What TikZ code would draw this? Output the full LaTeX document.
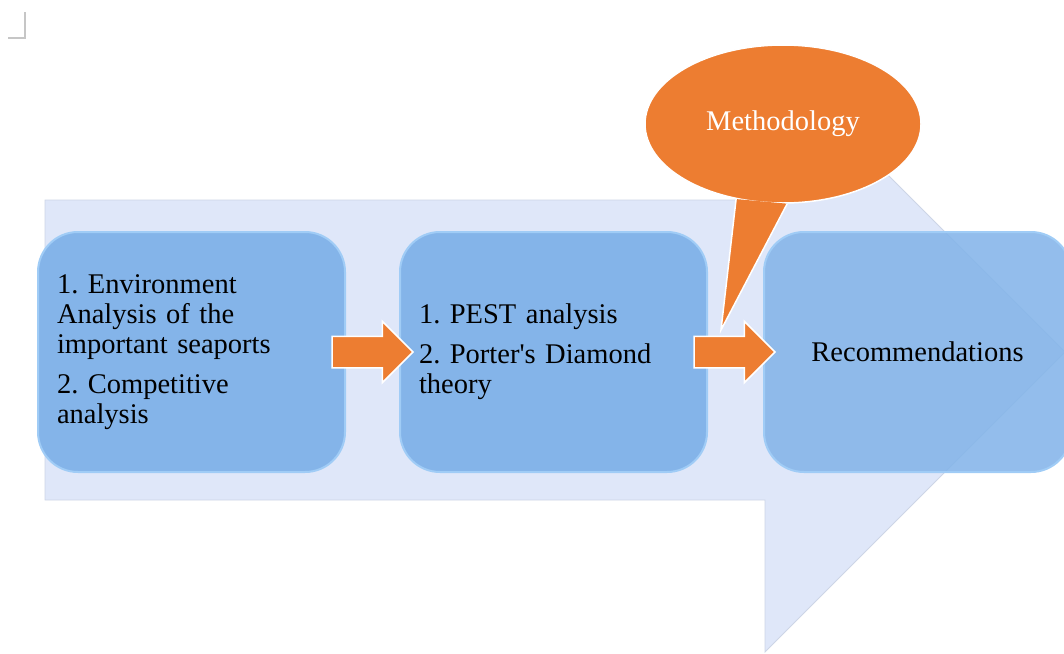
\documentclass[tikz,border=0pt]{standalone}
\usepackage{fontspec}
\setmainfont{Liberation Serif}
\usepackage{tikz}
\usetikzlibrary{positioning,shapes.geometric,shapes.arrows}
\frenchspacing

\definecolor{bandblue}{HTML}{DFE7F9}
\definecolor{bandedge}{HTML}{CDD5E6}
\definecolor{stagefill}{HTML}{84B4E9}
\definecolor{stageedge}{HTML}{A0CCF6}
\definecolor{methorange}{HTML}{ED7D31}

\begin{document}
\begin{tikzpicture}[x=1pt,y=-1pt,
  txt/.style={font=\fontsize{28.5pt}{30pt}\selectfont},
  stage/.style={txt, rounded corners=40pt, fill=stagefill, draw=stageedge, line width=2pt, outer sep=0pt,
    minimum width=307pt, minimum height=240pt, text width=269pt, inner xsep=19pt, align=left},
  flowarr/.style={single arrow, fill=methorange, draw=white, line width=1.5pt, inner xsep=0pt, outer sep=0pt,
    inner ysep=15pt, single arrow head extend=15pt, minimum height=81pt, anchor=tail}]
\useasboundingbox (0,0) rectangle (1064,653);
\draw[gray!45, line width=2pt] (8,38) -- (25,38) -- (25,12);
\fill[bandblue, draw=bandedge, line width=0.8pt] (45,200) -- (765,200) -- (765,52) -- (1065,352)
  -- (765,652) -- (765,500) -- (45,500) -- cycle;
\node[stage] (env) at (191.5,352) {1. Environment\\ Analysis of the\\ important seaports\\[10pt] 2. Competitive\\ analysis};
\node[stage, right=55pt of env] (pest) {1. PEST analysis\\[10pt] 2. Porter\textquotesingle s Diamond\\ theory};
\node[stage, align=center, fill opacity=0.88, text opacity=1, right=57pt of pest] (rec) {Recommendations};
\node[flowarr] (a1) at ([xshift=-13pt]env.east) {};
\node[flowarr] (a2) at ([xshift=-13pt]pest.east) {};
\node[ellipse, fill=methorange, draw=white, line width=1.5pt, minimum width=276pt, minimum height=158pt,
  inner sep=0pt, txt, text=white] (method) at (783,124) {\raisebox{7pt}{Methodology}};
\coordinate (tip) at (721,330);
\fill[methorange] (method.238) -- (tip) -- (method.273) -- cycle;
\draw[white, line width=1.5pt] (method.238) -- (tip) -- (method.273);
\end{tikzpicture}
\end{document}
